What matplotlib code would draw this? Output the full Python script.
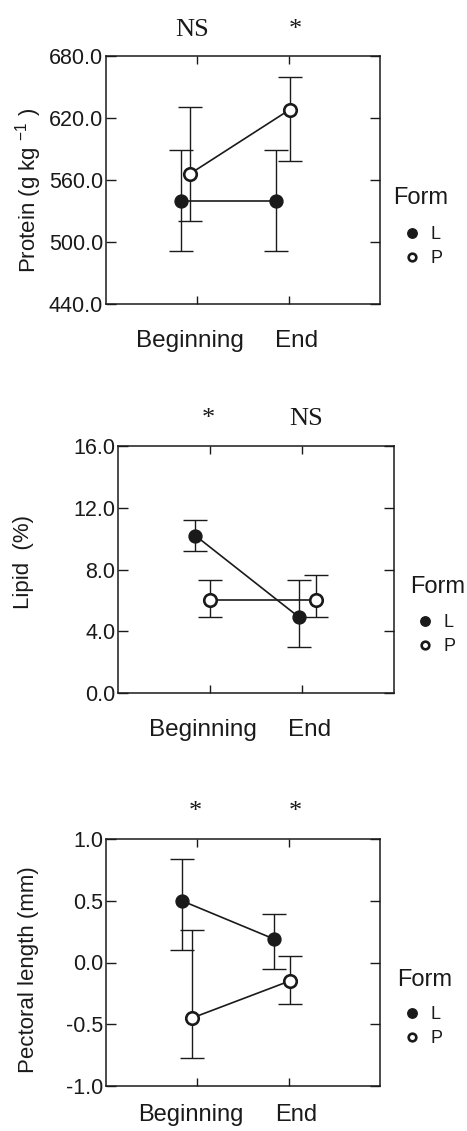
import matplotlib
matplotlib.use("Agg")
import matplotlib.pyplot as plt
import matplotlib.transforms as mtransforms
from matplotlib.lines import Line2D

# ---------------- data ----------------
stages = ["Beginning", "End"]
forms = ["L", "P"]

protein_L = [540, 540]
protein_L_lo = [491, 491]
protein_L_hi = [589, 589]
protein_P = [566, 628]
protein_P_lo = [520, 578]
protein_P_hi = [631, 660]
protein_sig = ["NS", "*"]
protein_ticks = [440.0, 500.0, 560.0, 620.0, 680.0]

lipid_L = [10.2, 4.9]
lipid_L_lo = [9.2, 3.0]
lipid_L_hi = [11.2, 7.3]
lipid_P = [6.0, 6.0]
lipid_P_lo = [4.9, 4.9]
lipid_P_hi = [7.3, 7.65]
lipid_sig = ["*", "NS"]
lipid_ticks = [0.0, 4.0, 8.0, 12.0, 16.0]

pect_L = [0.50, 0.19]
pect_L_lo = [0.10, -0.05]
pect_L_hi = [0.84, 0.39]
pect_P = [-0.45, -0.15]
pect_P_lo = [-0.77, -0.34]
pect_P_hi = [0.26, 0.05]
pect_sig = ["*", "*"]
pect_ticks = [-1.0, -0.5, 0.0, 0.5, 1.0]

# ---------------- layout ----------------
W, H = 467, 1131
DPI = 100
plt.rcParams["font.family"] = ["Liberation Sans", "DejaVu Sans"]
plt.rcParams["mathtext.default"] = "regular"
fig = plt.figure(figsize=(W / DPI, H / DPI), dpi=DPI)
INK = "#1a1a1a"


def rect(l, r, t, b):
    return [l / W, 1 - b / H, (r - l) / W, (b - t) / H]


def fx(x):
    return x / W


def fy(y):
    return 1 - y / H


panels = [
    dict(rect=(106, 380, 56, 304), ylabel="Protein (g kg $^{-1}$ )", ylab_x=29,
         ylab_y=190, ticks=protein_ticks,
         L=(protein_L, protein_L_lo, protein_L_hi), P=(protein_P, protein_P_lo, protein_P_hi),
         dL=[-0.18, -0.14], dP=[-0.08, 0.01], sig=protein_sig,
         sig_x=[192, 295], sig_base=36, form=(393, 198), leg=(403, 226),
         lab_x=[-7, 8], lab_y=37, lab_fs=17.5),
    dict(rect=(118, 394, 446, 693), ylabel="Lipid  (%)", ylab_x=23, ylab_y=562,
         ticks=lipid_ticks,
         L=(lipid_L, lipid_L_lo, lipid_L_hi), P=(lipid_P, lipid_P_lo, lipid_P_hi),
         dL=[-0.16, -0.03], dP=[0.0, 0.15], sig=lipid_sig,
         sig_x=[208, 306], sig_base=425, form=(410, 587), leg=(416, 614),
         lab_x=[-7, 8], lab_y=37, lab_fs=17.5),
    dict(rect=(106, 380, 839, 1086), ylabel="Pectoral length (mm)", ylab_x=29,
         ylab_y=970, ticks=pect_ticks,
         L=(pect_L, pect_L_lo, pect_L_hi), P=(pect_P, pect_P_lo, pect_P_hi),
         dL=[-0.17, -0.16], dP=[-0.06, 0.01], sig=pect_sig,
         sig_x=[195, 295], sig_base=818, form=(397, 980), leg=(403, 1006),
         lab_x=[-7, 8], lab_y=29, lab_fs=17),
]

for p in panels:
    l, r, t, b = p["rect"]
    ax = fig.add_axes(rect(l, r, t, b))
    ax.set_xlim(0, 3)
    ax.set_ylim(p["ticks"][0], p["ticks"][-1])
    base = list(range(1, len(stages) + 1))

    for key, d, face, ms, mew in (("L", p["dL"], INK, 9.3, 1.0), ("P", p["dP"], "white", 9.0, 1.9)):
        m, lo, hi = p[key]
        xs = [bx + dx for bx, dx in zip(base, d)]
        yerr = [[mv - lv for mv, lv in zip(m, lo)], [hv - mv for mv, hv in zip(m, hi)]]
        ax.errorbar(xs, m, yerr=yerr, fmt="none", ecolor=INK, elinewidth=1.0,
                    capsize=8.3, capthick=1.0, zorder=2)
        ax.plot(xs, m, "-", color=INK, lw=1.2, zorder=3)
        ax.plot(xs, m, "o", ms=ms, mfc=face, mec=INK, mew=mew, zorder=4, ls="none")

    ax.set_yticks(p["ticks"])
    ax.set_yticklabels([f"{v:.1f}" for v in p["ticks"]])
    ax.set_xticks(base)
    ax.set_xticklabels([])
    ax.tick_params(axis="y", direction="in", length=7, width=1.0, left=True, right=True,
                   labelsize=15.5, pad=2, colors=INK)
    ax.tick_params(axis="x", direction="in", length=6, width=1.0, top=True, bottom=True,
                   colors=INK)
    for s in ax.spines.values():
        s.set_linewidth(1.1)
        s.set_color(INK)

    # category labels under the axis
    trans = mtransforms.blended_transform_factory(ax.transData, ax.transAxes)
    for bx, name, dx in zip(base, stages, p["lab_x"]):
        off = mtransforms.ScaledTranslation(dx / DPI, -p["lab_y"] / DPI, fig.dpi_scale_trans)
        ax.text(bx, 0, name, transform=trans + off, ha="center", va="center",
                fontsize=p["lab_fs"], color=INK)

    # significance marks
    for sx, s in zip(p["sig_x"], p["sig"]):
        fig.text(fx(sx), fy(p["sig_base"]), s, ha="center", va="baseline",
                 fontsize=19, family=["Liberation Serif", "DejaVu Serif"], color=INK)

    # y label
    fig.text(fx(p["ylab_x"]), fy(p["ylab_y"]), p["ylabel"], rotation=90,
             ha="center", va="center", fontsize=16, color=INK)

    # legend
    fxp, fyp = p["form"]
    fig.text(fx(fxp), fy(fyp), "Form", ha="left", va="center", fontsize=17, color=INK)
    handles = [Line2D([], [], ls="none", marker="o", ms=6.8, mfc=INK, mec=INK, mew=1.0),
               Line2D([], [], ls="none", marker="o", ms=5.5, mfc="white", mec=INK, mew=1.9)]
    lx, ly = p["leg"]
    leg = ax.legend(handles, forms, loc="upper left",
                    bbox_to_anchor=(fx(lx), fy(ly)), bbox_transform=fig.transFigure,
                    frameon=False, fontsize=13, borderpad=0,
                    borderaxespad=0, handlelength=1.0, handletextpad=0.5,
                    labelspacing=0.4)
    for txt in leg.get_texts():
        txt.set_color(INK)

fig.savefig("out.png", dpi=DPI)
